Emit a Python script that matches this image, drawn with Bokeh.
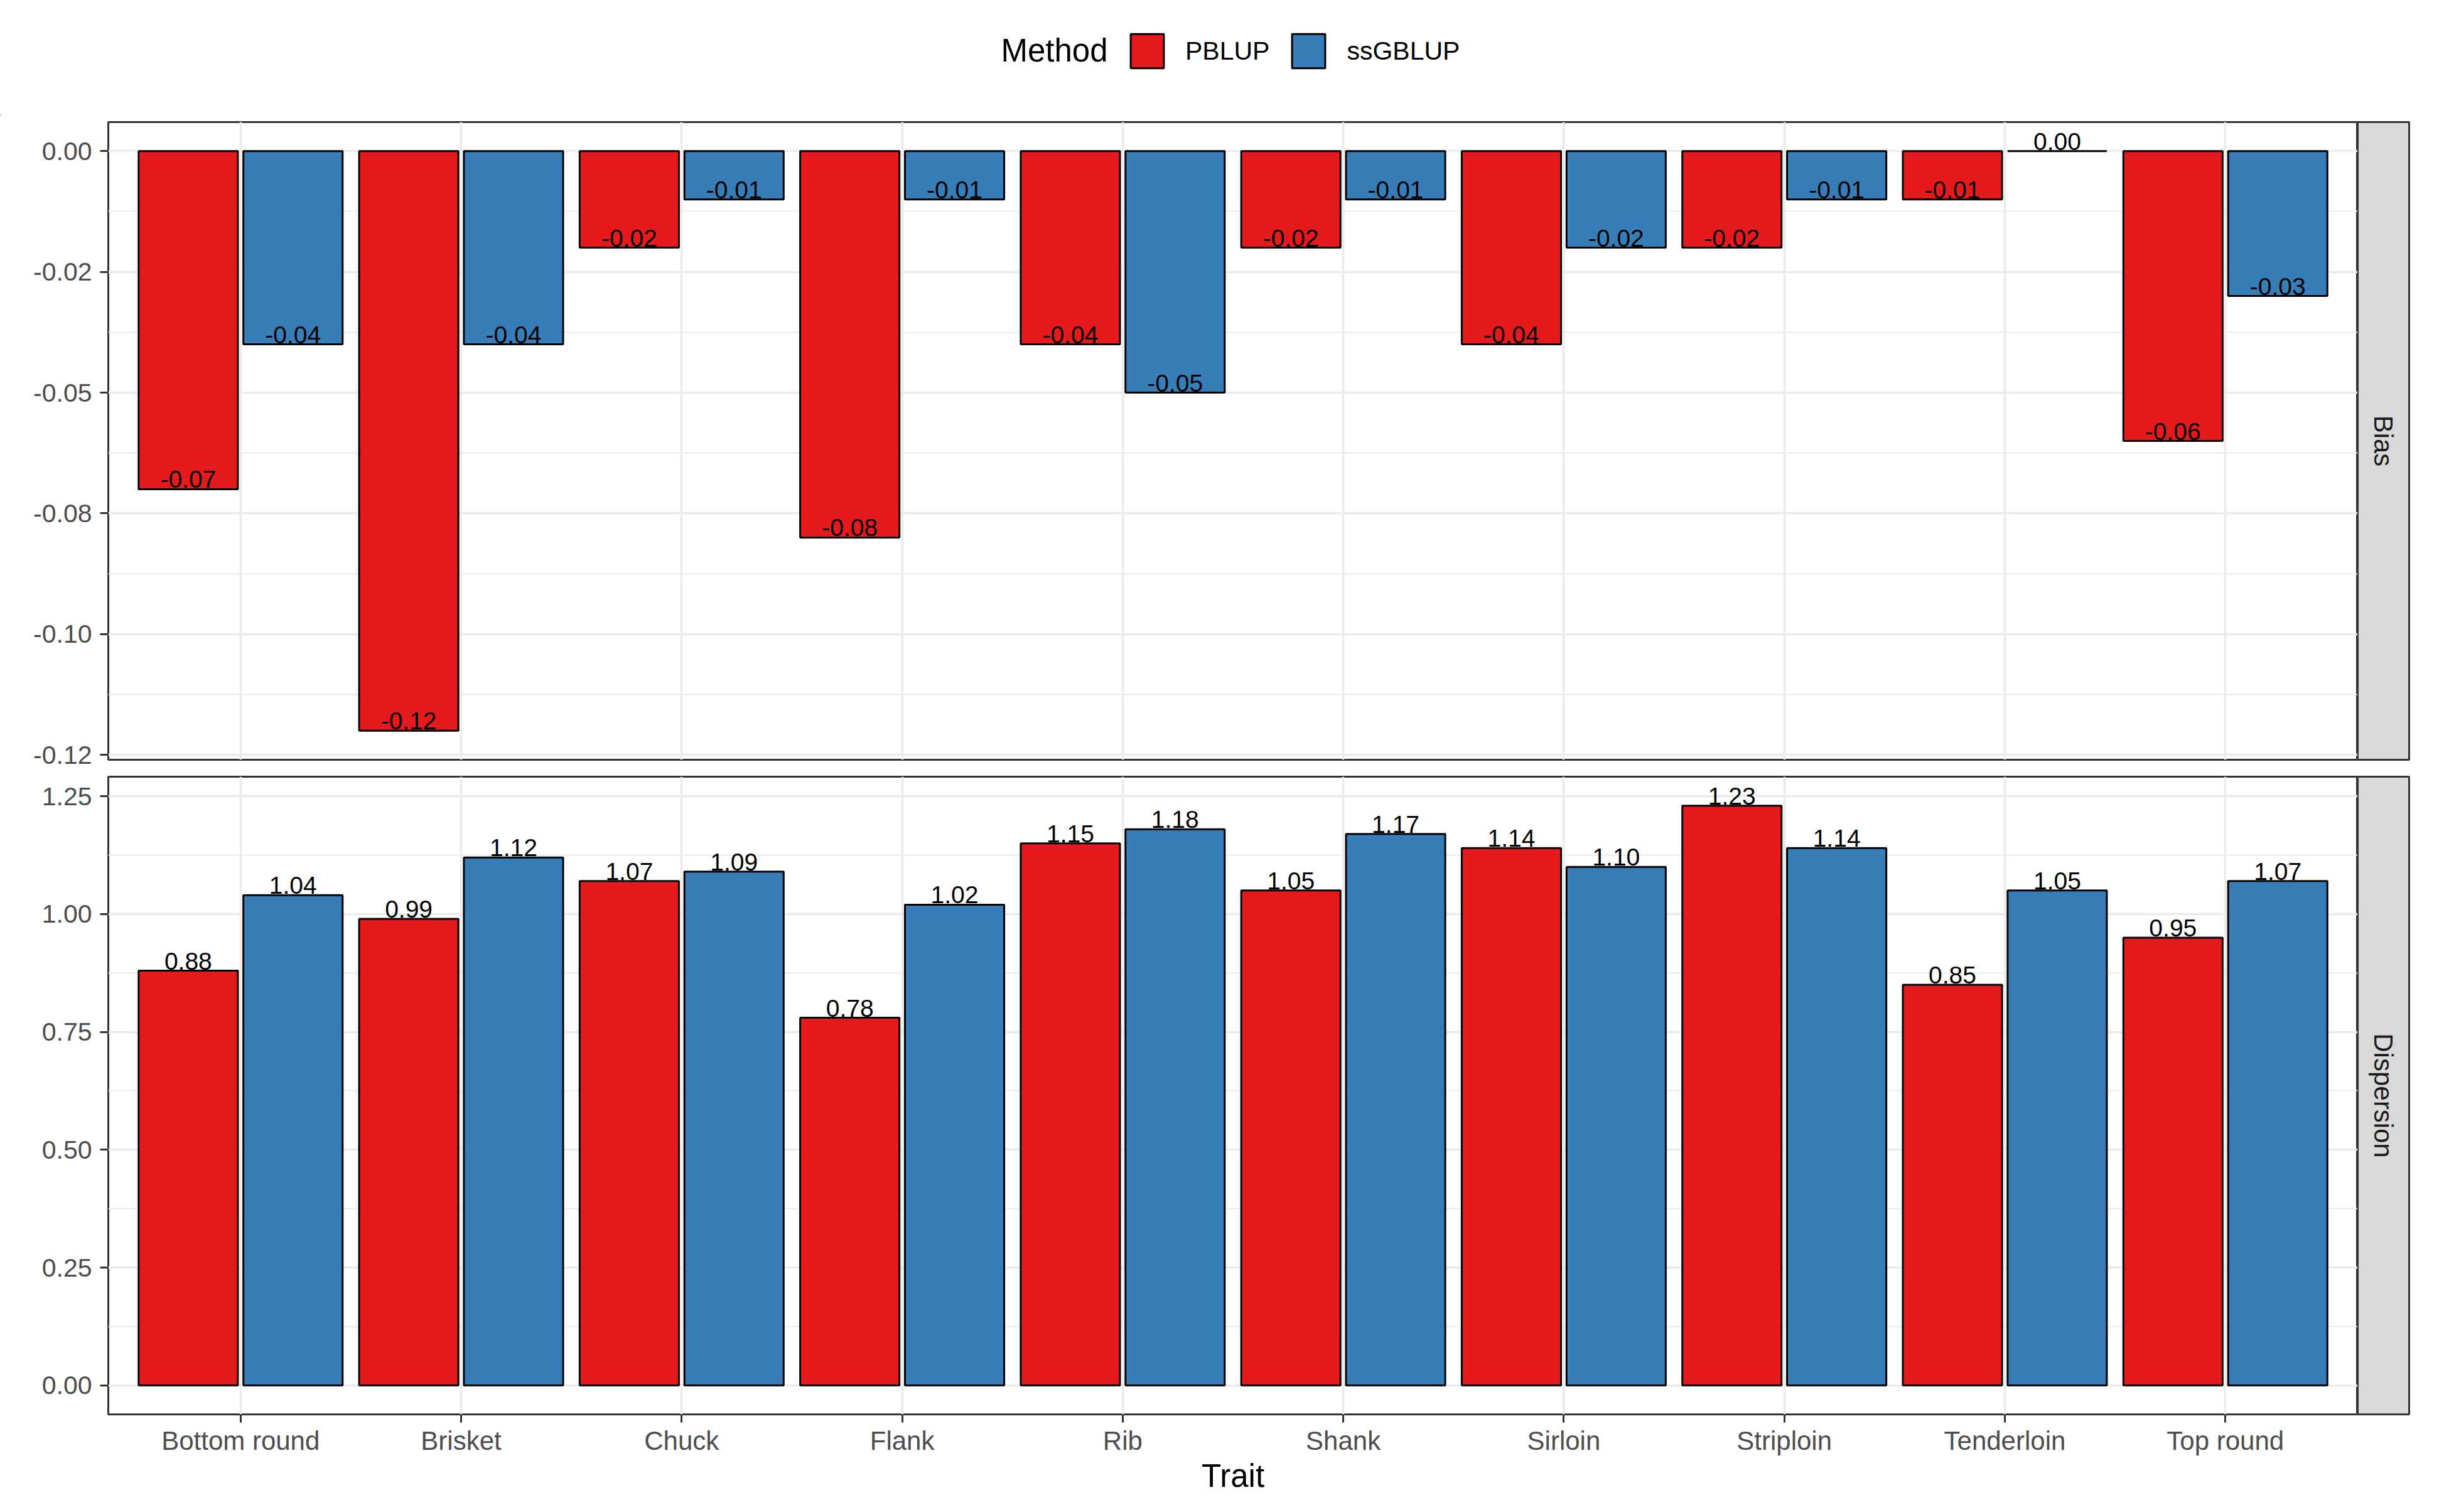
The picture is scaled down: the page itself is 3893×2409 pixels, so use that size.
import math
from bokeh.plotting import figure
from bokeh.models import (FactorRange, Range1d, FixedTicker, CustomJSTickFormatter,
                          ColumnDataSource, Legend, LegendItem, Label)
from bokeh.layouts import column, row
from bokeh.transform import dodge
from bokeh.core.properties import value
from bokeh.embed import file_html
from bokeh.resources import INLINE

# ---------------- data ----------------
traits = ["Bottom round", "Brisket", "Chuck", "Flank", "Rib",
          "Shank", "Sirloin", "Striploin", "Tenderloin", "Top round"]
methods = ["PBLUP", "ssGBLUP"]
method_colors = ["#E41A1C", "#377EB8"]

bias_pblup = [-0.07, -0.12, -0.02, -0.08, -0.04, -0.02, -0.04, -0.02, -0.01, -0.06]
bias_ssgblup = [-0.04, -0.04, -0.01, -0.01, -0.05, -0.01, -0.02, -0.01, 0.00, -0.03]
disp_pblup = [0.88, 0.99, 1.07, 0.78, 1.15, 1.05, 1.14, 1.23, 0.85, 0.95]
disp_ssgblup = [1.04, 1.12, 1.09, 1.02, 1.18, 1.17, 1.10, 1.14, 1.05, 1.07]

bias_ticks = [0.0, -0.025, -0.05, -0.075, -0.10, -0.125]
bias_tick_labels = ["0.00", "-0.02", "-0.05", "-0.08", "-0.10", "-0.12"]
bias_minor = [-0.0125, -0.0375, -0.0625, -0.0875, -0.1125]
disp_ticks = [0.0, 0.25, 0.50, 0.75, 1.00, 1.25]
disp_tick_labels = ["0.00", "0.25", "0.50", "0.75", "1.00", "1.25"]
disp_minor = [0.125, 0.375, 0.625, 0.875, 1.125]

panel_names = ["Bias", "Dispersion"]
x_title = "Trait"
legend_title = "Method"

# ---------------- style ----------------
FONT = "Liberation Sans"
GRID = "#EBEBEB"
DARK = "#333333"
TICKTXT = "#4D4D4D"

TOTAL_W = 3885
LEFT = 172
FRAME_W = 3583
STRIP_W = 82
RIGHT_PAD = TOTAL_W - LEFT - FRAME_W - STRIP_W

x_range = FactorRange(factors=traits, range_padding=0.1, range_padding_units="absolute")

BAR_W = 0.45
offsets = [-0.2375, 0.2375]


def make_formatter(tvals, tlabels):
    return CustomJSTickFormatter(args=dict(tvals=tvals, tlabels=tlabels), code="""
        let best = 0, d = Infinity;
        for (let i = 0; i < tvals.length; i++) {
            const e = Math.abs(tvals[i] - tick);
            if (e < d) { d = e; best = i; }
        }
        return tlabels[best];
    """)


def make_panel(series, ylo, yhi, ticks, tick_labels, minor, show_x, height, top_b, bot_b):
    p = figure(x_range=x_range, y_range=Range1d(ylo, yhi), width=LEFT + FRAME_W, height=height,
               toolbar_location=None, output_backend="svg",
               min_border_left=LEFT, min_border_right=0,
               min_border_top=top_b, min_border_bottom=bot_b)
    p.background_fill_color = "white"
    p.border_fill_color = "white"
    p.outline_line_color = DARK
    p.outline_line_width = 3

    for vals, off, col in zip(series, offsets, method_colors):
        src = ColumnDataSource(dict(trait=traits, v=vals, label=[f"{x:.2f}" for x in vals]))
        p.vbar(x=dodge("trait", off, range=x_range), top="v", bottom=0, width=BAR_W,
               fill_color=col, line_color="black", line_width=3, source=src)
        p.text(x=dodge("trait", off, range=x_range), y="v", text="label", source=src,
               text_font=value(FONT), text_font_size="39px", text_color="black",
               text_align="center", text_baseline="bottom", y_offset=-2)

    ticker = FixedTicker(ticks=ticks, minor_ticks=minor)
    p.yaxis.ticker = ticker
    p.ygrid.ticker = ticker
    p.yaxis.formatter = make_formatter(ticks, tick_labels)
    p.yaxis.axis_line_color = None
    p.yaxis.major_tick_line_color = DARK
    p.yaxis.major_tick_line_width = 3
    p.yaxis.major_tick_out = 13
    p.yaxis.major_tick_in = 0
    p.yaxis.minor_tick_line_color = None
    p.yaxis.major_label_standoff = 13
    p.yaxis.major_label_text_font = FONT
    p.yaxis.major_label_text_font_size = "41px"
    p.yaxis.major_label_text_color = TICKTXT

    p.ygrid.grid_line_color = GRID
    p.ygrid.grid_line_width = 3.5
    p.ygrid.minor_grid_line_color = GRID
    p.ygrid.minor_grid_line_width = 2
    p.xgrid.grid_line_color = GRID
    p.xgrid.grid_line_width = 3.5

    if show_x:
        p.xaxis.axis_line_color = None
        p.xaxis.major_tick_line_color = DARK
        p.xaxis.major_tick_line_width = 3
        p.xaxis.major_tick_out = 13
        p.xaxis.major_tick_in = 0
        p.xaxis.major_label_standoff = 5
        p.xaxis.major_label_text_font = FONT
        p.xaxis.major_label_text_font_size = "42px"
        p.xaxis.major_label_text_color = TICKTXT
        p.xaxis.axis_label = x_title
        p.xaxis.axis_label_text_font = FONT
        p.xaxis.axis_label_text_font_size = "51px"
        p.xaxis.axis_label_text_font_style = "normal"
        p.xaxis.axis_label_text_color = "black"
        p.xaxis.axis_label_standoff = 1
    else:
        p.xaxis.visible = False
    return p


def make_strip(name, height, top_b, bot_b):
    s = figure(x_range=Range1d(0, 1), y_range=Range1d(0, 1), width=STRIP_W + RIGHT_PAD, height=height,
               toolbar_location=None, output_backend="svg",
               x_axis_location=None, y_axis_location=None,
               min_border_left=0, min_border_right=RIGHT_PAD,
               min_border_top=top_b, min_border_bottom=bot_b)
    s.xgrid.visible = False
    s.ygrid.visible = False
    s.background_fill_color = "#D9D9D9"
    s.border_fill_color = "white"
    s.outline_line_color = DARK
    s.outline_line_width = 3
    s.add_layout(Label(x=0.5, y=0.5, text=name, angle=-math.pi / 2,
                       text_font=FONT, text_font_size="42px", text_color="#1A1A1A",
                       text_align="center", text_baseline="middle"))
    return s


# header with legend (swatch renderers sit outside the visible range)
HEADER_H = 184
header = figure(width=TOTAL_W, height=HEADER_H, x_range=Range1d(0, 1), y_range=Range1d(0, 1),
                toolbar_location=None, output_backend="svg",
                x_axis_location=None, y_axis_location=None,
                min_border_left=0, min_border_right=0, min_border_top=0, min_border_bottom=0)
header.xgrid.visible = False
header.ygrid.visible = False
header.outline_line_color = None
header.background_fill_color = "white"
header.border_fill_color = "white"
items = []
for m, col in zip(methods, method_colors):
    r = header.vbar(x=[-50], top=[-50], bottom=[-51], width=0.5, fill_color=col,
                    line_color="black", line_width=3)
    items.append(LegendItem(label=m, renderers=[r]))
legend = Legend(items=items, location=(1794, 69), orientation="horizontal",
                glyph_width=66, glyph_height=68, label_standoff=28, spacing=29,
                padding=0, margin=0, border_line_color=None, background_fill_alpha=0,
                label_text_font=FONT, label_text_font_size="41px", label_text_color="black")
header.add_layout(legend)
header.add_layout(Label(x=1764, y=HEADER_H - 80, x_units="screen", y_units="screen",
                        text=legend_title, text_font=FONT, text_font_size="51px",
                        text_color="black", text_align="right", text_baseline="middle"))

TOP_H, TOP_T, TOP_B = 1048, 10, 22
BOT_H, BOT_T, BOT_B = 1169, 5, 148

p_top = make_panel([bias_pblup, bias_ssgblup], -0.126, 0.006, bias_ticks, bias_tick_labels,
                   bias_minor, False, TOP_H, TOP_T, TOP_B)
p_bot = make_panel([disp_pblup, disp_ssgblup], -0.0615, 1.2915, disp_ticks, disp_tick_labels,
                   disp_minor, True, BOT_H, BOT_T, BOT_B)
s_top = make_strip(panel_names[0], TOP_H, TOP_T, TOP_B)
s_bot = make_strip(panel_names[1], BOT_H, BOT_T, BOT_B)

layout = column(header, row(p_top, s_top), row(p_bot, s_bot))

open("out.html", "w").write(file_html(layout, INLINE))
